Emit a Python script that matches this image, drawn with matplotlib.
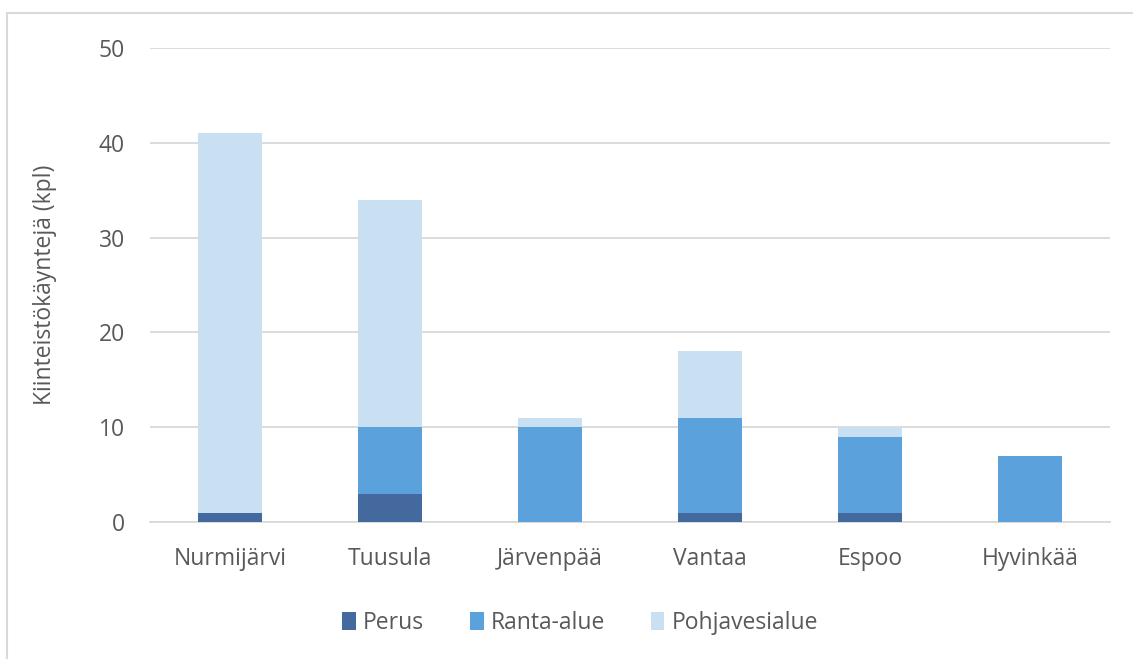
import numpy as np
import matplotlib.pyplot as plt
from matplotlib.patches import Rectangle

# Data
municipalities = ["Nurmijärvi", "Tuusula", "Järvenpää", "Vantaa", "Espoo", "Hyvinkää"]
perus = [1, 3, 0, 1, 1, 0]
ranta_alue = [0, 7, 10, 10, 8, 7]
pohjavesialue = [40, 24, 1, 7, 1, 0]

series_names = ["Perus", "Ranta-alue", "Pohjavesialue"]
colors = ["#43699e", "#5ba1db", "#c9dff2"]

plt.rcParams["font.family"] = ["Open Sans", "DejaVu Sans"]
text_color = "#595959"
fs = 16.5

fig = plt.figure(figsize=(11.33, 6.59), dpi=100)
ax = fig.add_axes([0.1324, 0.2079, 0.8473, 0.7193])

x = np.arange(len(municipalities))
bottom = np.zeros(len(municipalities))
for name, vals, c in zip(series_names, [perus, ranta_alue, pohjavesialue], colors):
    vals = np.array(vals, dtype=float)
    ax.bar(x, vals, width=0.4, bottom=bottom, color=c, label=name, zorder=3)
    bottom += vals

ax.set_xlim(-0.5, len(municipalities) - 0.5)
ax.set_ylim(0, 50)
ax.set_yticks(np.arange(0, 51, 10))
ax.set_xticks(x)
ax.set_xticklabels(municipalities)
ax.grid(axis="y", color="#d9d9d9", linewidth=1.3, zorder=0)
ax.tick_params(axis="both", length=0, labelsize=fs, labelcolor=text_color)
ax.tick_params(axis="x", pad=18)
ax.tick_params(axis="y", pad=18)
for s in ["top", "right", "left"]:
    ax.spines[s].set_visible(False)
ax.spines["bottom"].set_color("#d9d9d9")
ax.spines["bottom"].set_linewidth(1.3)

ax.set_ylabel("Kiinteistökäyntejä (kpl)", fontsize=fs, color=text_color, labelpad=30)

leg = fig.legend(loc="center", bbox_to_anchor=(0.512, 0.055), ncol=3, frameon=False,
                 fontsize=fs, handlelength=0.6, handleheight=0.8, handletextpad=0.3,
                 columnspacing=2.0)
for t in leg.get_texts():
    t.set_color(text_color)

# light frame around the chart area (left and top edges visible)
fig.patches.append(Rectangle((7 / 1133, -0.05), 1.1, 1 - 13 / 659 + 0.05,
                             transform=fig.transFigure, fill=False,
                             edgecolor="#d9d9d9", linewidth=1.5))

fig.savefig("out.png", dpi=100)
